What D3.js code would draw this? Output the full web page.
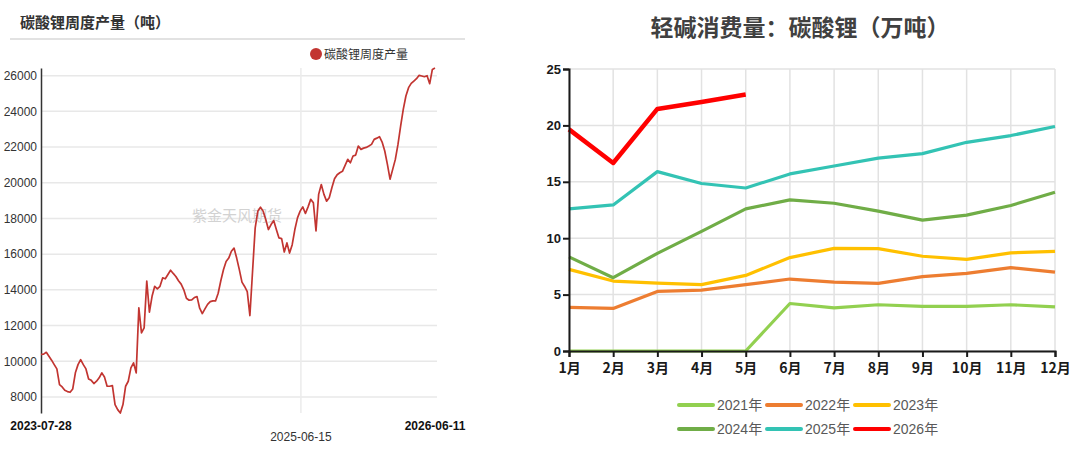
<!DOCTYPE html>
<html><head><meta charset="utf-8">
<script src="https://cdn.jsdelivr.net/npm/d3@7/dist/d3.min.js"></script>
<style>body{margin:0;background:#fff}svg{display:block}</style>
</head><body>
<svg id="c" width="1080" height="454"></svg>
<script>
// ---------- Left chart data: 碳酸锂周度产量（吨） weekly ----------
const prodStart = "2023-07-28";
const prodValues = [
  10380,10400,10500,10280,10060,9810,9570,8690,8560,8370,
  8300,8260,8450,9350,9810,10090,9810,9570,9010,8930,
  8750,8880,9070,9350,9120,8600,8600,8640,7570,7290,
  7100,7570,8600,8880,9630,9910,9350,12990,11590,11870,
  14490,12750,13640,14200,14060,14200,14670,14620,14860,15100,
  14920,14750,14510,14320,14000,13530,13420,13440,13570,13620,
  12970,12670,12930,13190,13340,13380,13380,13810,14510,15130,
  15590,15780,16160,16340,15780,15130,14430,14190,13900,12560,
  15030,17470,18410,18630,18410,17940,17380,17660,17880,17380,
  16910,16870,16120,16630,16060,16530,17380,18030,18410,18650,
  18280,18650,19070,18880,17300,19350,19900,19350,18970,19160,
  19720,20220,20450,20560,20640,20970,21310,21120,21500,21550,
  22060,21870,21940,21980,22060,22150,22430,22500,22580,22280,
  21780,21030,20200,20750,21310,22150,23180,24110,24860,25330,
  25570,25700,25830,26020,25980,25940,26000,25550,26350,26430
];
const prodYTicks = [8000,10000,12000,14000,16000,18000,20000,22000,24000,26000];
const prodMidLabel = "2025-06-15";
const prodEndLabel = "2026-06-11";
const prodTitle = "碳酸锂周度产量（吨）";
const prodLegend = "碳酸锂周度产量";
const watermark = "紫金天风期货";

// ---------- Right chart data: 轻碱消费量：碳酸锂（万吨） ----------
const months = ["1月","2月","3月","4月","5月","6月","7月","8月","9月","10月","11月","12月"];
const seriesNames = ["2021年","2022年","2023年","2024年","2025年","2026年"];
const v2021 = [0,0,0,0,0,4.21,3.83,4.1,3.95,3.95,4.1,3.92];
const v2022 = [3.86,3.77,5.28,5.4,5.88,6.38,6.11,6.0,6.59,6.88,7.39,7.0];
const v2023 = [7.24,6.2,6.02,5.88,6.7,8.28,9.1,9.08,8.4,8.13,8.7,8.84];
const v2024 = [8.34,6.5,8.66,10.6,12.6,13.4,13.1,12.4,11.6,12.05,12.9,14.07];
const v2025 = [12.6,12.95,15.9,14.85,14.45,15.7,16.4,17.1,17.5,18.5,19.1,19.9];
const v2026 = [19.65,16.67,21.46,22.08,22.74];
const consYTicks = [0,5,10,15,20,25];
const consTitle = "轻碱消费量：碳酸锂（万吨）";
const seriesColors = ["#92D050","#ED7D31","#FFC000","#70AD47","#33C3B4","#FF0000"];

const svg = d3.select("#c");
const FONT = "'Liberation Sans', Arial, 'Noto Sans CJK SC', sans-serif";

// ================= LEFT CHART =================
(function(){
  const parse = d3.timeParse("%Y-%m-%d");
  const t0 = parse(prodStart);
  const data = prodValues.map((v,i)=>({d:d3.timeDay.offset(t0, 7*i), v}));
  const L = {left:41, right:435, top:68, bottom:413};
  const x = d3.scaleTime().domain(d3.extent(data,d=>d.d)).range([L.left, L.right]);
  const y = d3.scaleLinear().domain(d3.extent(prodValues)).range([L.bottom, L.top]);
  const g = svg.append("g");

  g.append("text").attr("x",20).attr("y",28).text(prodTitle)
    .attr("font-family",FONT).attr("font-size",15).attr("font-weight","bold").attr("fill","#333");
  g.append("line").attr("x1",10).attr("x2",465).attr("y1",39).attr("y2",39)
    .attr("stroke","#d9d9d9").attr("stroke-width",1.5);

  // legend
  g.append("circle").attr("cx",316).attr("cy",54).attr("r",6).attr("fill","#c23531");
  g.append("text").attr("x",324).attr("y",58.5).text(prodLegend)
    .attr("font-family",FONT).attr("font-size",12).attr("fill","#333");

  // horizontal grid
  g.selectAll(".hg").data(prodYTicks).enter().append("line")
    .attr("x1",L.left).attr("x2",L.right+2).attr("y1",d=>y(d)).attr("y2",d=>y(d))
    .attr("stroke","#e8e8e8").attr("stroke-width",1.5);
  // vertical grid at middle label
  const midX = x(parse(prodMidLabel));
  g.append("line").attr("x1",midX).attr("x2",midX).attr("y1",L.top).attr("y2",L.bottom)
    .attr("stroke","#ebebeb").attr("stroke-width",1.5);

  // watermark
  g.append("text").attr("x",237).attr("y",221).attr("text-anchor","middle")
    .text(watermark).attr("font-family",FONT).attr("font-size",15).attr("fill","#d2d2d2");

  // y axis
  const ya = d3.axisLeft(y).tickValues(prodYTicks).tickSize(0).tickPadding(4).tickFormat(d3.format("d"));
  const yg = g.append("g").attr("transform",`translate(${L.left},0)`).call(ya);
  yg.select(".domain").attr("stroke","#333").attr("stroke-width",1.5);
  yg.selectAll("text").attr("font-family",FONT).attr("font-size",12).attr("fill","#333");

  // x labels
  const xl = [
    {t:prodStart, x:x(data[0].d), y:430, b:true},
    {t:prodMidLabel, x:midX, y:441, b:false},
    {t:prodEndLabel, x:x(data[data.length-1].d), y:430, b:true}
  ];
  g.selectAll(".xl").data(xl).enter().append("text")
    .attr("x",d=>d.x).attr("y",d=>d.y).attr("text-anchor","middle").text(d=>d.t)
    .attr("font-family",FONT).attr("font-size",12).attr("font-weight",d=>d.b?"bold":"normal")
    .attr("fill",d=>d.b?"#111":"#333");

  // line
  g.append("path").datum(data)
    .attr("d",d3.line().x(d=>x(d.d)).y(d=>y(d.v)))
    .attr("fill","none").attr("stroke","#c23531").attr("stroke-width",1.7).attr("stroke-linejoin","round");
})();

// ================= RIGHT CHART =================
(function(){
  const R = {left:569, right:1055, top:69, bottom:351};
  const x = d3.scalePoint().domain(months).range([R.left, R.right]);
  const y = d3.scaleLinear().domain([0,25]).range([R.bottom, R.top]);
  const g = svg.append("g");

  g.append("text").attr("x",800).attr("y",36).attr("text-anchor","middle").text(consTitle)
    .attr("font-family","'Noto Sans CJK SC', sans-serif").attr("font-size",23).attr("font-weight","bold").attr("fill","#404040");

  // grid
  g.selectAll(".hg").data(consYTicks).enter().append("line")
    .attr("x1",R.left).attr("x2",R.right).attr("y1",d=>y(d)).attr("y2",d=>y(d))
    .attr("stroke","#e2e2e2").attr("stroke-width",1.5);
  g.selectAll(".vg").data(months).enter().append("line")
    .attr("x1",d=>x(d)).attr("x2",d=>x(d)).attr("y1",R.top).attr("y2",R.bottom)
    .attr("stroke","#e2e2e2").attr("stroke-width",1.5);

  // series
  const all = [v2021,v2022,v2023,v2024,v2025,v2026];
  const line = d3.line().x((d,i)=>x(months[i])).y(d=>y(d));
  all.forEach((vals,k)=>{
    g.append("path").datum(vals).attr("d",line).attr("fill","none")
      .attr("stroke",seriesColors[k]).attr("stroke-width",k===5?4.5:3.2)
      .attr("stroke-linejoin","round").attr("stroke-linecap","butt");
  });

  // axes
  const ya = d3.axisLeft(y).tickValues(consYTicks).tickSize(6).tickPadding(2);
  const yg = g.append("g").attr("transform",`translate(${R.left},0)`).call(ya);
  const xa = d3.axisBottom(x).tickSize(6).tickPadding(6);
  const xg = g.append("g").attr("transform",`translate(0,${R.bottom})`).call(xa);
  [yg,xg].forEach(a=>{
    a.select(".domain").attr("stroke","#1a1a1a").attr("stroke-width",2);
    a.selectAll(".tick line").attr("stroke","#1a1a1a").attr("stroke-width",2);
    a.selectAll("text").attr("font-family",FONT).attr("font-weight","bold").attr("fill","#1a1a1a");
  });
  yg.selectAll("text").attr("font-size",13);
  xg.selectAll("text").attr("font-size",14).attr("font-family","'Noto Sans CJK SC', sans-serif");

  // legend
  const itemW = 88, cx = 811;
  const lg = g.append("g");
  seriesNames.forEach((name,k)=>{
    const col = k%3, row = Math.floor(k/3);
    const lx = cx - 1.5*itemW + col*itemW, ly = 405 + row*24;
    lg.append("line").attr("x1",lx).attr("x2",lx+34).attr("y1",ly).attr("y2",ly)
      .attr("stroke",seriesColors[k]).attr("stroke-width",4).attr("stroke-linecap","round");
    lg.append("text").attr("x",lx+38).attr("y",ly+5).text(name)
      .attr("font-family",FONT).attr("font-size",14).attr("fill","#595959");
  });
})();
</script>
</body></html>
